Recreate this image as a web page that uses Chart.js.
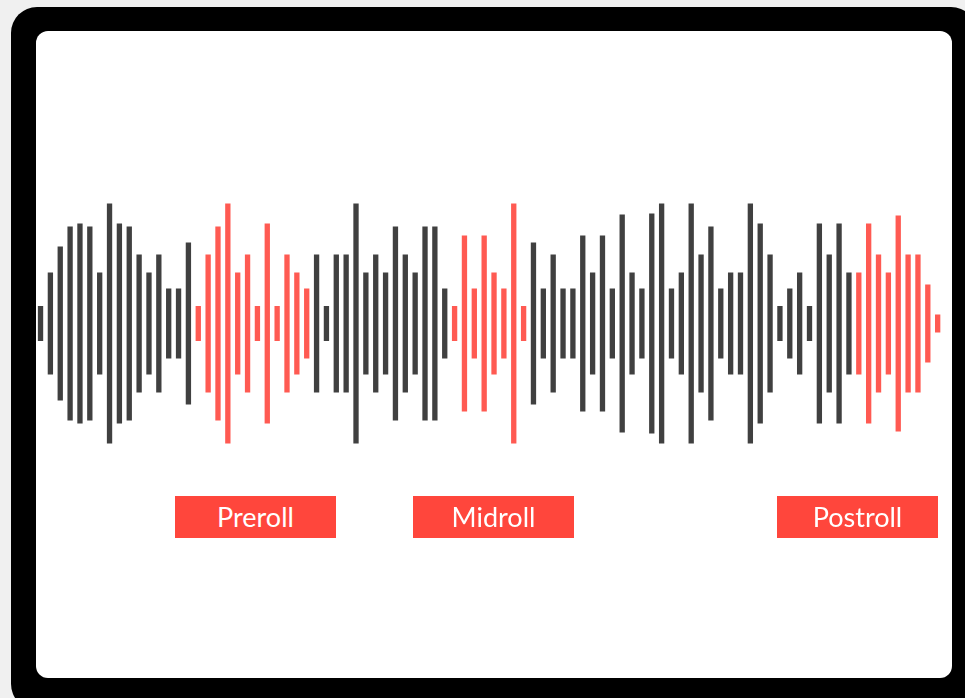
<!DOCTYPE html>
<html>
<head>
<meta charset="utf-8">
<script src="https://cdn.jsdelivr.net/npm/chart.js@4/dist/chart.umd.min.js"></script>
<style>
  html, body { margin: 0; padding: 0; }
  body { width: 965px; height: 698px; background: #f0f0f0; position: relative; overflow: hidden; }
  .frame {
    position: absolute; left: 11px; top: 7px; width: 966px; height: 703px;
    background: #000; border-radius: 26px;
  }
  .screen {
    position: absolute; left: 36px; top: 31px; width: 916px; height: 647px;
    background: #fff; border-radius: 12px;
  }
  #wrap { position: absolute; left: 0; top: 0; width: 965px; height: 698px; }
  .tag {
    position: absolute; top: 496px; height: 42px; width: 161px;
    background: #ff463c; color: #fff; text-align: center;
    font-family: Lato, 'Open Sans', sans-serif; font-size: 27px; line-height: 42px;
  }
</style>
</head>
<body>
<div class="frame"></div>
<div class="screen"></div>
<div id="wrap"><canvas id="wave"></canvas></div>
<div class="tag" style="left:175px">Preroll</div>
<div class="tag" style="left:413px">Midroll</div>
<div class="tag" style="left:777px">Postroll</div>

<script>
'use strict';

// half-height of each bar, left to right
const amplitudes = [
  17.5, 51, 77, 97, 100, 97, 51, 120, 100, 97, 69, 51, 69, 35, 35, 81,
  17.5, 69, 97, 120, 51, 69, 17.5, 100, 17.5, 69, 51, 35,
  69, 17.5, 69, 69, 120, 51, 69, 51, 97, 69, 51, 97, 97, 35,
  17.5, 88, 35, 88, 51, 35, 120, 17.5,
  81, 35, 69, 35, 35, 88, 51, 88, 35, 109, 51, 35, 110, 120, 35, 51,
  120, 69, 97, 35, 51, 51, 120, 100, 69, 17.5, 35, 51, 17.5, 100, 69, 100, 51,
  51, 100, 69, 51, 108, 69, 69, 39, 9
];

// which bars belong to an ad slot (red)
const adSlots = [
  [16, 27],   // Preroll
  [42, 49],   // Midroll
  [83, 91],   // Postroll
];

const DARK = '#404040';
const RED  = '#ff5a52';

const labels = amplitudes.map((_, i) => i + 1);
const isAd = (i) => adSlots.some(([a, b]) => i >= a && i <= b);

new Chart(document.getElementById('wave').getContext('2d'), {
  type: 'bar',
  data: {
    labels: labels,
    datasets: [{
      data: amplitudes.map((h) => [-h, h]),
      backgroundColor: amplitudes.map((_, i) => (isAd(i) ? RED : DARK)),
      borderWidth: 0,
      borderSkipped: false,
      categoryPercentage: 1,
      barPercentage: 0.54,
    }],
  },
  options: {
    responsive: true,
    maintainAspectRatio: false,
    animation: false,
    layout: { padding: { left: 35.6, right: 22.4, top: 193.6, bottom: 244.4 } },
    plugins: { legend: { display: false }, tooltip: { enabled: false } },
    scales: {
      x: { display: false, offset: true },
      y: { display: false, min: -130, max: 130 },
    },
  },
});
</script>
</body>
</html>
